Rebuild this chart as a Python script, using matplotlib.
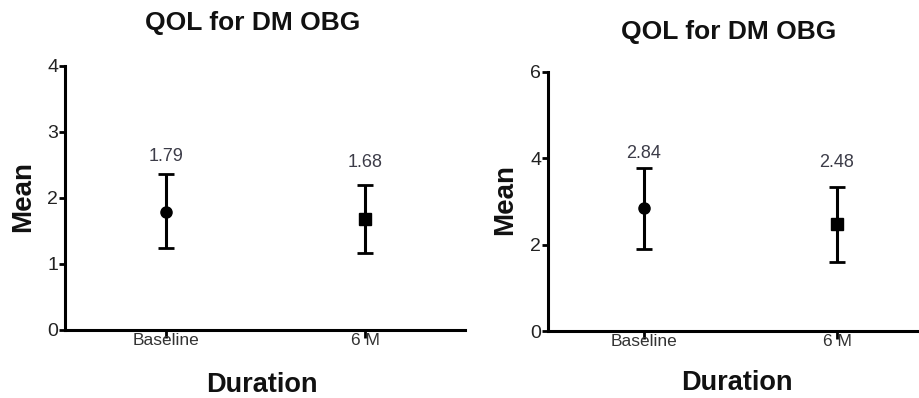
import matplotlib
matplotlib.use("Agg")
import matplotlib.pyplot as plt

plt.rcParams['font.family'] = ['Liberation Sans', 'DejaVu Sans']

# ---- data ----
categories = ["Baseline", "6 M"]
title_text = "QOL for DM OBG"

left_means = [1.79, 1.68]
left_upper = [2.36, 2.20]
left_lower = [1.24, 1.17]
left_yticks = [0, 1, 2, 3, 4]

right_means = [2.84, 2.48]
right_upper = [3.77, 3.33]
right_lower = [1.90, 1.60]
right_yticks = [0, 2, 4, 6]

markers = ["o", "s"]

W, H = 920, 398
fig = plt.figure(figsize=(W / 100, H / 100), dpi=100)


def px_axes(x0, y0, x1, y1):
    return fig.add_axes([x0 / W, 1 - y1 / H, (x1 - x0) / W, (y1 - y0) / H])


def draw_panel(ax, means, upper, lower, yticks, xlim, label_offsets):
    xs = list(range(len(categories)))
    for i, x in enumerate(xs):
        m = means[i]
        ax.errorbar([x], [m], yerr=[[m - lower[i]], [upper[i] - m]],
                    fmt=markers[i], color="black", ecolor="black",
                    elinewidth=2.2, capsize=6, capthick=2.0,
                    markersize=8 if markers[i] == "o" else 8.5,
                    clip_on=False, zorder=3)
        ax.annotate(f"{m:.2f}", xy=(x, upper[i]), xytext=(0, label_offsets[i]),
                    textcoords="offset pixels", ha="center", va="center",
                    fontsize=13, color="#3c3c48")
    ax.set_xlim(*xlim)
    ax.set_ylim(yticks[0], yticks[-1])
    ax.set_yticks(yticks)
    ax.set_xticks(xs)
    ax.set_xticklabels(categories)
    for s in ["top", "right"]:
        ax.spines[s].set_visible(False)
    for s in ["left", "bottom"]:
        ax.spines[s].set_linewidth(2.2)
        ax.spines[s].set_color("black")
    ax.tick_params(axis="y", length=4, width=2.0, labelsize=14,
                   labelcolor="#222222", pad=1)
    ax.tick_params(axis="x", length=6, width=2.0, labelsize=12.5,
                   labelcolor="#333333", pad=-3.5)
    ax.set_facecolor("none")


ax1 = px_axes(65, 66, 465, 330)
draw_panel(ax1, left_means, left_upper, left_lower, left_yticks,
           (-0.508, 1.5), [18, 22])

ax2 = px_axes(548, 72, 920, 331)
draw_panel(ax2, right_means, right_upper, right_lower, right_yticks,
           (-0.497, 1.43), [15, 25])

# titles and axis labels
fig.text(253 / W, 1 - 23 / H, title_text, ha="center", va="center",
         fontsize=19, fontweight="bold", color="#111111")
fig.text(729 / W, 1 - 32 / H, title_text, ha="center", va="center",
         fontsize=19, fontweight="bold", color="#111111")

fig.text(23 / W, 1 - 197 / H, "Mean", rotation=90, ha="center", va="center",
         fontsize=20, fontweight="bold", color="#111111")
fig.text(505 / W, 1 - 200 / H, "Mean", rotation=90, ha="center", va="center",
         fontsize=20, fontweight="bold", color="#111111")

fig.text(262 / W, 1 - 385 / H, "Duration", ha="center", va="center",
         fontsize=19.5, fontweight="bold", color="#111111")
fig.text(737 / W, 1 - 383 / H, "Duration", ha="center", va="center",
         fontsize=19.5, fontweight="bold", color="#111111")

fig.savefig("out.png", dpi=100, facecolor="white")
